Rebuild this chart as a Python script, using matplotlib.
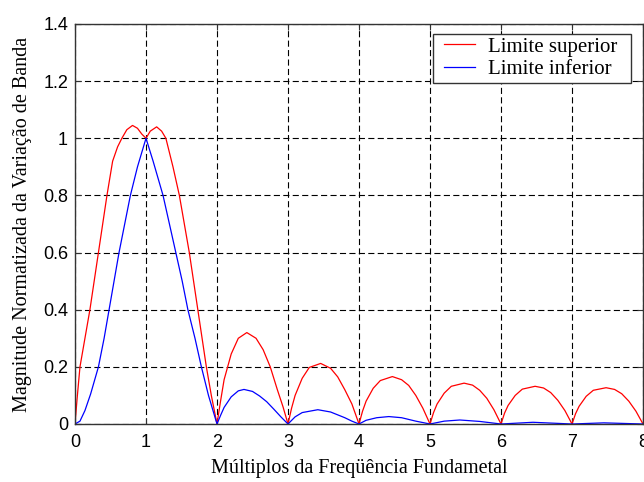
import numpy as np
import matplotlib
matplotlib.use("Agg")
import matplotlib.pyplot as plt
from matplotlib.patches import Rectangle

# curvas
sup_x = [0, 0.03, 0.07, 0.14, 0.21, 0.27, 0.33, 0.39, 0.45, 0.53, 0.6, 0.66, 0.73, 0.81, 0.88, 0.94, 1.0,
         1.06, 1.15, 1.22, 1.28, 1.38, 1.47, 1.54, 1.61, 1.67, 1.73, 1.79, 1.85, 1.92, 2.0,
         2.05, 2.1, 2.2, 2.3, 2.42, 2.55, 2.65, 2.75, 2.85, 2.93, 3.0,
         3.05, 3.1, 3.2, 3.3, 3.46, 3.6, 3.7, 3.8, 3.9, 4.0,
         4.05, 4.1, 4.2, 4.3, 4.47, 4.6, 4.7, 4.8, 4.9, 5.0,
         5.05, 5.1, 5.2, 5.3, 5.48, 5.6, 5.7, 5.8, 5.9, 6.0,
         6.05, 6.1, 6.2, 6.3, 6.48, 6.6, 6.7, 6.8, 6.9, 7.0,
         7.05, 7.1, 7.2, 7.3, 7.48, 7.6, 7.7, 7.8, 7.9, 8.0]
sup_y = [0, 0.09, 0.2, 0.3, 0.4, 0.5, 0.6, 0.7, 0.8, 0.92, 0.97, 1.0, 1.03, 1.045, 1.035, 1.015, 1.0,
         1.025, 1.04, 1.025, 1.0, 0.9, 0.8, 0.7, 0.6, 0.5, 0.4, 0.3, 0.2, 0.1, 0,
         0.08, 0.155, 0.245, 0.3, 0.32, 0.3, 0.26, 0.2, 0.12, 0.06, 0,
         0.055, 0.1, 0.16, 0.198, 0.212, 0.195, 0.165, 0.12, 0.07, 0,
         0.045, 0.08, 0.125, 0.152, 0.166, 0.155, 0.135, 0.1, 0.055, 0,
         0.04, 0.07, 0.108, 0.132, 0.143, 0.136, 0.118, 0.09, 0.05, 0,
         0.038, 0.065, 0.1, 0.122, 0.132, 0.126, 0.11, 0.083, 0.047, 0,
         0.036, 0.062, 0.097, 0.118, 0.127, 0.121, 0.106, 0.08, 0.045, 0]

inf_x = [0, 0.07, 0.14, 0.22, 0.33, 0.41, 0.48, 0.55, 0.62, 0.7, 0.78, 0.88, 1.0,
         1.1, 1.24, 1.33, 1.42, 1.51, 1.59, 1.69, 1.78, 1.88, 2.0,
         2.05, 2.1, 2.2, 2.3, 2.38, 2.5, 2.6, 2.7, 2.8, 2.9, 3.0,
         3.1, 3.2, 3.42, 3.6, 3.8, 3.9, 4.0,
         4.1, 4.25, 4.42, 4.6, 4.8, 5.0,
         5.2, 5.42, 5.7, 6.0,
         6.45, 7.0,
         7.45, 8.0]
inf_y = [0, 0.01, 0.047, 0.105, 0.2, 0.3, 0.4, 0.5, 0.6, 0.7, 0.8, 0.9, 1.0,
         0.92, 0.8, 0.7, 0.6, 0.5, 0.4, 0.3, 0.2, 0.1, 0,
         0.03, 0.058, 0.095, 0.116, 0.121, 0.114, 0.098, 0.078, 0.052, 0.025, 0,
         0.025, 0.04, 0.05, 0.042, 0.022, 0.01, 0,
         0.013, 0.022, 0.026, 0.022, 0.01, 0,
         0.01, 0.014, 0.009, 0,
         0.006, 0,
         0.004, 0]

xticks = [0, 1, 2, 3, 4, 5, 6, 7, 8]
yticks = [0, 0.2, 0.4, 0.6, 0.8, 1, 1.2, 1.4]
ytick_labels = ["0", "0.2", "0.4", "0.6", "0.8", "1", "1.2", "1.4"]

fig = plt.figure(figsize=(6.44, 4.82), dpi=100)
ax = fig.add_axes([75 / 644, 1 - 424 / 482, 568 / 644, 400 / 482])

ax.plot(sup_x, sup_y, color="#ff0000", lw=0.9, label="Limite superior")
ax.plot(inf_x, inf_y, color="#0000ff", lw=0.9, label="Limite inferior")

ax.set_xlim(0, 8)
ax.set_ylim(0, 1.4)
ax.set_xticks(xticks)
ax.set_yticks(yticks)
ax.set_yticklabels(ytick_labels)
ax.grid(True, color="k", ls=(0, (5.5, 3)), lw=0.8)
ax.tick_params(direction="in", top=True, right=True, length=4, labelsize=13, colors="#333333")
ax.tick_params(axis="x", pad=7, labelcolor="black")
ax.tick_params(axis="y", pad=5, labelcolor="black")
for lab in ax.get_xticklabels() + ax.get_yticklabels():
    lab.set_family("Liberation Sans")
for s in ax.spines.values():
    s.set_color("#333333")
    s.set_linewidth(1.0)

ax.set_xlabel("Múltiplos da Freqüência Fundametal", family="Liberation Serif", fontsize=14.5, labelpad=6)
ax.set_ylabel("Magnitude Normatizada da Variação de Banda", family="Liberation Serif", fontsize=14.5, labelpad=8)

# legenda sem moldura; moldura desenhada depois com folga maior nas laterais
leg = ax.legend(loc="upper right", bbox_to_anchor=(617 / 644, 1 - 37 / 482), bbox_transform=fig.transFigure,
                prop={"family": "Liberation Serif", "size": 15}, frameon=False,
                handlelength=1.5, handletextpad=0.6, borderpad=0,
                labelspacing=0.15, borderaxespad=0)
leg.set_zorder(6)
fig.canvas.draw()
bb = leg.get_window_extent()
frame = Rectangle((bb.x0 - 11, bb.y0 - 4), bb.width + 11 + 14, bb.height + 7,
                  transform=None, facecolor="white", edgecolor="#333333", lw=1.0,
                  zorder=5, clip_on=False)
ax.add_artist(frame)

fig.savefig("out.png", dpi=100)
